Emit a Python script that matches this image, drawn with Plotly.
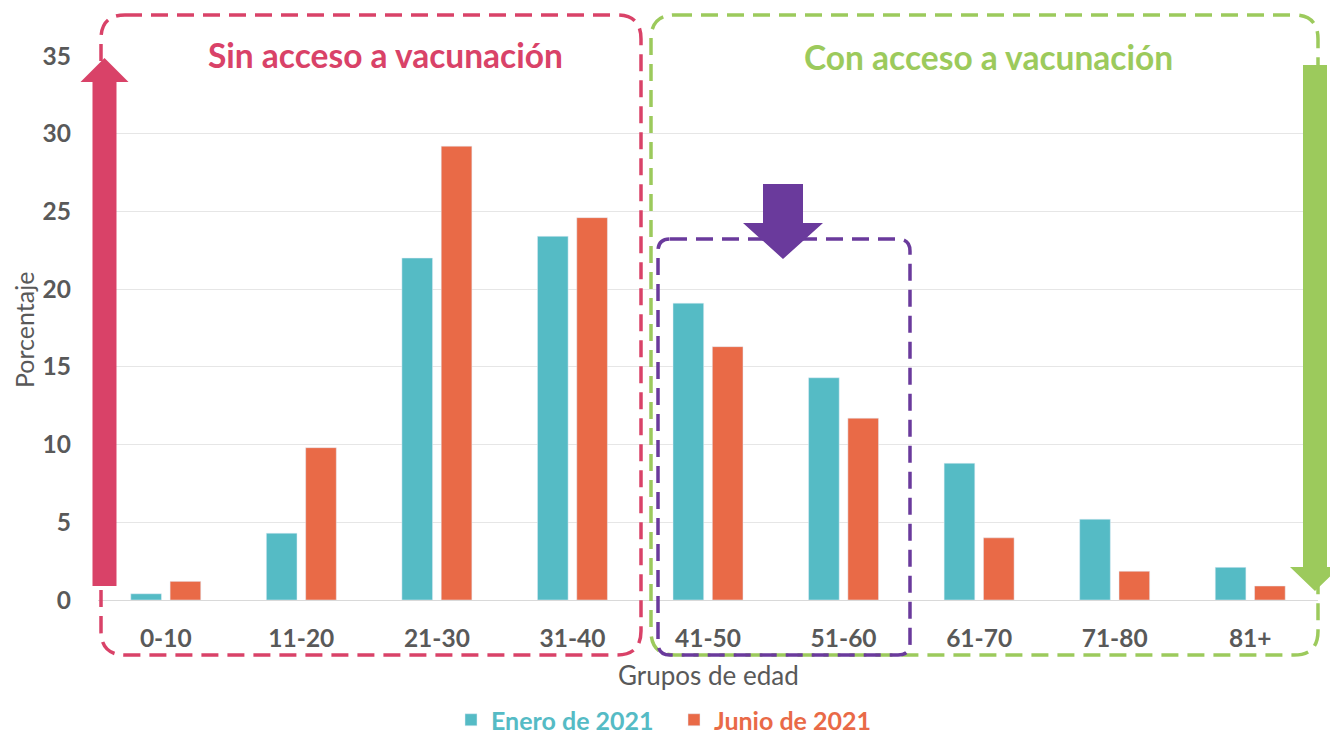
import plotly.graph_objects as go

# ---------------- data ----------------
categories = ["0-10", "11-20", "21-30", "31-40", "41-50", "51-60", "61-70", "71-80", "81+"]
enero_2021 = [0.4, 4.3, 22.0, 23.4, 19.1, 14.3, 8.8, 5.2, 2.1]
junio_2021 = [1.2, 9.8, 29.2, 24.6, 16.3, 11.7, 4.0, 1.85, 0.9]
y_ticks = [0, 5, 10, 15, 20, 25, 30, 35]
series_names = ["Enero de 2021", "Junio de 2021"]

# ---------------- styles ----------------
TEAL = "#55BBC5"
ORANGE = "#E96A47"
RED = "#D94268"
GREEN = "#9CCA5C"
PURPLE = "#6A3A9C"
GREY = "#595959"
FONT = "Lato"

W, H = 1330, 734
L, R, T, B = 98, 12, 56, 134
PW, PH = W - L - R, H - T - B


def px(x, y):
    return (x - L) / PW, (H - B - y) / PH


def path_from(points, close=True):
    parts = []
    for cmd, pts in points:
        coords = " ".join("%.5f,%.5f" % px(*p) for p in pts)
        parts.append(cmd + " " + coords if coords else cmd)
    s = " ".join(parts)
    return s + (" Z" if close else "")


def rounded_rect(x0, y0, x1, y1, r):
    pts = [
        ("M", [(x0 + r, y0)]),
        ("L", [(x1 - r, y0)]),
        ("Q", [(x1, y0), (x1, y0 + r)]),
        ("L", [(x1, y1 - r)]),
        ("Q", [(x1, y1), (x1 - r, y1)]),
        ("L", [(x0 + r, y1)]),
        ("Q", [(x0, y1), (x0, y1 - r)]),
        ("L", [(x0, y0 + r)]),
        ("Q", [(x0, y0), (x0 + r, y0)]),
    ]
    return path_from(pts)


def arrow(cx, shaft_w, head_w, tail_y, base_y, tip_y):
    sw, hw = shaft_w / 2, head_w / 2
    pts = [
        ("M", [(cx - sw, tail_y)]),
        ("L", [(cx - sw, base_y)]),
        ("L", [(cx - hw, base_y)]),
        ("L", [(cx, tip_y)]),
        ("L", [(cx + hw, base_y)]),
        ("L", [(cx + sw, base_y)]),
        ("L", [(cx + sw, tail_y)]),
    ]
    return path_from(pts)


fig = go.Figure()
fig.add_trace(go.Bar(
    x=categories, y=enero_2021, marker_color=TEAL,
    name="<span style='color:%s'><b>%s</b></span>" % (TEAL, series_names[0]),
))
fig.add_trace(go.Bar(
    x=categories, y=junio_2021, marker_color=ORANGE,
    name="<span style='color:%s'><b>%s</b></span>" % (ORANGE, series_names[1]),
))

dash = "17px,9px"
shapes = [
    dict(type="path", path=rounded_rect(101, 15, 641, 655, 24), xref="paper", yref="paper",
         line=dict(color=RED, width=3.5, dash=dash), layer="above"),
    dict(type="path", path=rounded_rect(651, 15, 1318, 655, 24), xref="paper", yref="paper",
         line=dict(color=GREEN, width=3.5, dash=dash), layer="above"),
    dict(type="path", path=rounded_rect(658, 239, 910, 655, 12), xref="paper", yref="paper",
         line=dict(color=PURPLE, width=3.5, dash=dash), layer="above"),
    dict(type="path", path=arrow(104.5, 24, 48, 586, 82, 58), xref="paper", yref="paper",
         fillcolor=RED, line=dict(width=0), layer="above"),
    dict(type="path", path=arrow(1315, 24, 50, 65, 567, 591), xref="paper", yref="paper",
         fillcolor=GREEN, line=dict(width=0), layer="above"),
    dict(type="path", path=arrow(783, 40, 80, 184, 223, 259), xref="paper", yref="paper",
         fillcolor=PURPLE, line=dict(width=0), layer="above"),
]

ax_title_x, ax_title_y = px(708, 675)
py_x, py_y = px(24, 330)
sx, sy = px(385, 55)
cx, cy = px(988, 57)
lx, ly = px(674, 720)

annotations = [
    dict(text="<b>Sin acceso a vacunación</b>", x=sx, y=sy, xref="paper", yref="paper",
         showarrow=False, font=dict(family=FONT, size=33.5, color=RED), xanchor="center", yanchor="middle"),
    dict(text="<b>Con acceso a vacunación</b>", x=cx, y=cy, xref="paper", yref="paper",
         showarrow=False, font=dict(family=FONT, size=33.5, color=GREEN), xanchor="center", yanchor="middle"),
    dict(text="Grupos de edad", x=ax_title_x, y=ax_title_y, xref="paper", yref="paper",
         showarrow=False, font=dict(family=FONT, size=26, color=GREY), xanchor="center", yanchor="middle"),
    dict(text="Porcentaje", x=py_x, y=py_y, xref="paper", yref="paper", textangle=-90,
         showarrow=False, font=dict(family=FONT, size=25, color=GREY), xanchor="center", yanchor="middle"),
]

fig.update_layout(
    width=W, height=H,
    margin=dict(l=L, r=R, t=T, b=B, autoexpand=False),
    paper_bgcolor="white", plot_bgcolor="white",
    barmode="group", bargap=0.42, bargroupgap=0.22,
    font=dict(family=FONT, color=GREY),
    showlegend=True,
    legend=dict(orientation="h", x=lx, y=ly, xanchor="center", yanchor="middle",
                font=dict(family=FONT, size=25), itemwidth=30, bgcolor="rgba(0,0,0,0)",
                entrywidth=178, entrywidthmode="pixels"),
    shapes=shapes,
    annotations=annotations,
)
fig.update_xaxes(
    type="category", categoryorder="array", categoryarray=categories,
    showgrid=False, showline=False, ticks="", ticklabelstandoff=21,
    tickfont=dict(family=FONT, size=24.5, color=GREY, weight="bold"),
)
fig.update_yaxes(
    range=[0, 35], tickvals=y_ticks, ticktext=[str(v) for v in y_ticks],
    showgrid=True, gridcolor="#E6E6E6", gridwidth=1.3,
    zeroline=True, zerolinecolor="#D9D9D9", zerolinewidth=1.3,
    showline=False, ticks="", ticklabelstandoff=26,
    tickfont=dict(family=FONT, size=24.5, color=GREY, weight="bold"),
)

fig.write_html("out.html", config={"displayModeBar": False},
               post_script="document.body.style.margin='0';document.body.style.overflow='hidden';")
